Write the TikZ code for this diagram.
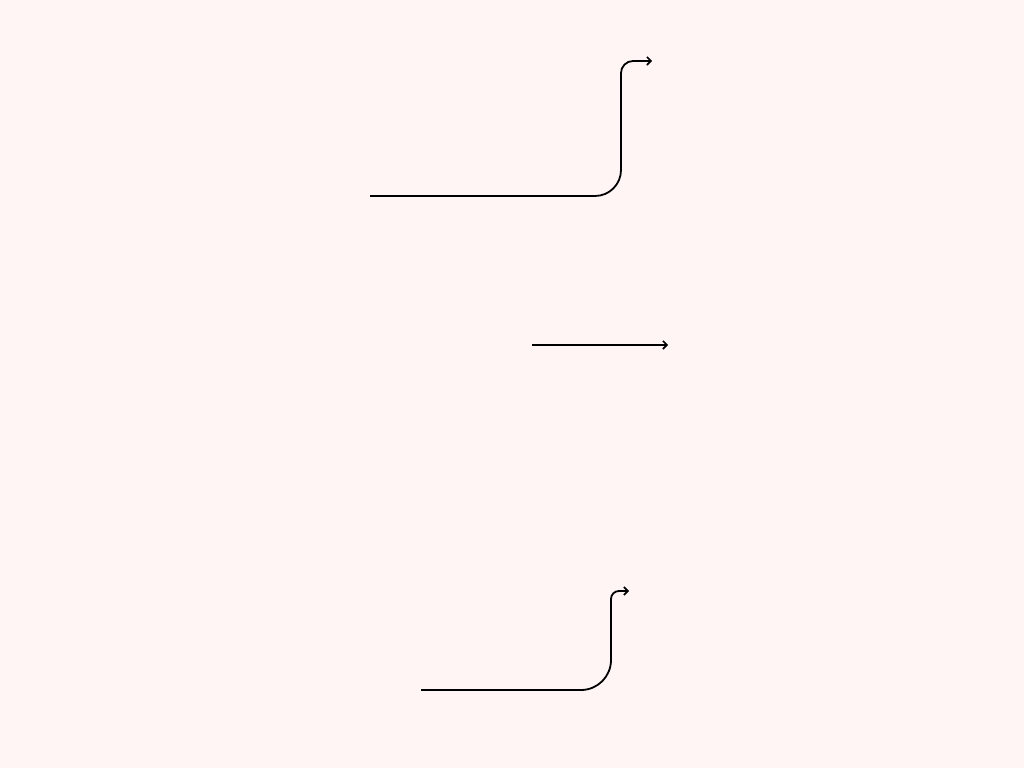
\documentclass[tikz,border=0pt]{standalone}
\usetikzlibrary{arrows.meta}
\definecolor{bgpink}{RGB}{255,245,245}
\tikzset{
  conn/.style={draw=black, line width=1.8pt, -{Straight Barb[length=4pt,width=8pt,line width=1.6pt]}},
}
\begin{document}
\begin{tikzpicture}[x=1pt,y=1pt]
  \fill[bgpink] (0,0) rectangle (1024,768);
  \useasboundingbox (0,0) rectangle (1024,768);
  % free ends as named coordinates
  \coordinate (s1) at (370,572);
  \coordinate (e1) at (652,707);
  \coordinate (s2) at (532,423);
  \coordinate (e2) at (668,423);
  \coordinate (s3) at (421,78);
  \coordinate (e3) at (629,177);
  \draw[conn] (s1) -- (595,572) arc[start angle=270,end angle=360,radius=26]
     -- (621,695) arc[start angle=180,end angle=90,radius=12] -- (e1);
  \draw[conn] (s2) -- (e2);
  \draw[conn] (s3) -- (581,78) arc[start angle=270,end angle=360,radius=30]
     -- (611,169) arc[start angle=180,end angle=90,radius=8] -- (e3);
\end{tikzpicture}
\end{document}
